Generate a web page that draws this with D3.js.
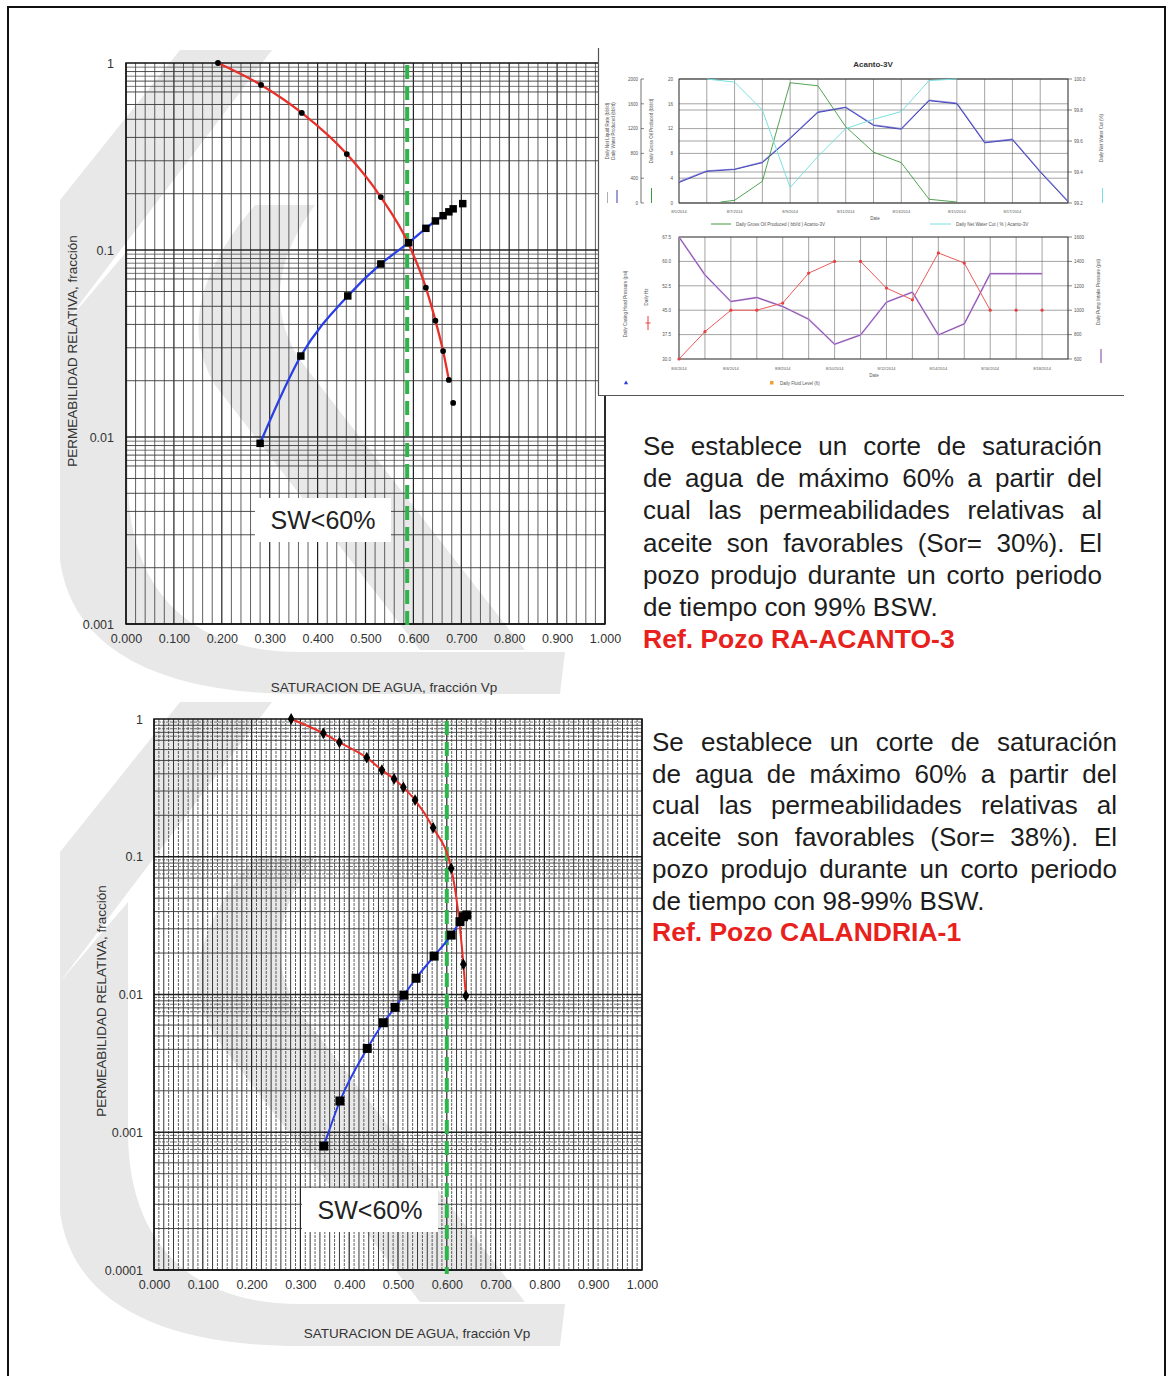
<!DOCTYPE html>
<html><head><meta charset="utf-8">
<script src="https://cdn.jsdelivr.net/npm/d3@7"></script>
<style>body{margin:0;background:#fff}svg{display:block}</style>
</head><body>
<svg id="c" width="1171" height="1376"></svg>
<script>
// ---------------- DATA ----------------
// Top chart (RA-ACANTO-3)
const xTickValues = [0,0.1,0.2,0.3,0.4,0.5,0.6,0.7,0.8,0.9,1.0];
const xTickLabels = ["0.000","0.100","0.200","0.300","0.400","0.500","0.600","0.700","0.800","0.900","1.000"];
const topYTickValues = [1,0.1,0.01,0.001];
const topYTickLabels = ["1","0.1","0.01","0.001"];
const topKroSw = [0.192,0.282,0.367,0.461,0.532,0.589,0.626,0.646,0.662,0.674];
const topKro   = [1.0,0.763,0.541,0.326,0.192,0.109,0.0629,0.0419,0.0288,0.0202];
const topKroTailSw = [0.683];
const topKroTail   = [0.0152];
const topKrwSw = [0.280,0.365,0.463,0.532,0.590,0.626,0.646,0.662,0.674,0.683];
const topKrw   = [0.00925,0.0271,0.0568,0.0842,0.1094,0.1306,0.143,0.1526,0.160,0.166];
const topKrwTailSw = [0.703];
const topKrwTail   = [0.177];
const topCutoff = 0.587;

// Bottom chart (CALANDRIA-1)
const botYTickValues = [1,0.1,0.01,0.001,0.0001];
const botYTickLabels = ["1","0.1","0.01","0.001","0.0001"];
const botKroSw = [0.281,0.347,0.380,0.436,0.467,0.492,0.511,0.535,0.572,0.609,0.634,0.639];
const botKro   = [1.0,0.787,0.677,0.524,0.426,0.367,0.319,0.258,0.1625,0.0824,0.01657,0.0098];
const botKrwSw = [0.348,0.381,0.437,0.470,0.494,0.512,0.537,0.574,0.609,0.627,0.634,0.641];
const botKrw   = [0.000794,0.001686,0.00406,0.00624,0.00807,0.0099,0.01312,0.0190,0.0270,0.0338,0.0367,0.0378];
const botCutoff = 0.600;

const cutLabel = "SW<60%";
const xTitle = "SATURACION  DE AGUA, fracción Vp";
const yTitle = "PERMEABILIDAD  RELATIVA, fracción";

// Texts
const topPara = ["Se establece un corte de saturación","de agua de máximo 60% a partir del","cual las permeabilidades relativas al","aceite son favorables (Sor= 30%). El","pozo produjo durante un corto periodo","de tiempo con 99% BSW."];
const topRef = "Ref. Pozo RA-ACANTO-3";
const botPara = ["Se establece un corte de saturación","de agua de máximo 60% a partir del","cual las permeabilidades relativas al","aceite son favorables (Sor= 38%). El","pozo produjo durante un corto periodo","de tiempo con 98-99% BSW."];
const botRef = "Ref. Pozo CALANDRIA-1";

// Inset (Acanto-3V) upper panel: day index from 8/5/2014
const upDays = [0,1,2,3,4,5,6,7,8,9,10,11,12,13,14];
const upDateLabels = ["8/5/2014","","8/7/2014","","8/9/2014","","8/11/2014","","8/13/2014","","8/15/2014","","8/17/2014","",""];
const waterProduced = [330,510,540,650,1040,1460,1540,1250,1190,1650,1600,970,1020,500,20];
const netLiquid     = [345,520,548,660,1050,1470,1548,1262,1200,1660,1612,982,1030,510,30];
const oilDays = [1.5,2,3,4,5,6,7,8,9,10];
const grossOil = [0.16,0.43,3.5,19.4,18.9,12.3,8.2,6.5,0.6,0.16];
const cutDays = [1,2,3,4,5,6,7,8,9,10];
const waterCut = [100,99.98,99.80,99.30,99.50,99.68,99.74,99.79,99.99,100];
const upLeft1Ticks = [0,400,800,1200,1600,2000];
const upLeft2Ticks = [0,4,8,12,16,20];
const upRightTicks = [99.2,99.4,99.6,99.8,100.0];
// lower panel: day index from 8/4/2014
const loDays = [0,1,2,3,4,5,6,7,8,9,10,11,12,13,14];
const loDateLabels = ["8/4/2014","","8/6/2014","","8/8/2014","","8/10/2014","","8/12/2014","","8/14/2014","","8/16/2014","","8/18/2014"];
const dailyHz = [30.0,38.4,45,45,47.2,56.4,60,60,51.8,48.2,62.6,59.5,45,45,45];
const hzLinked = [1,1,1,1,1,1,0,1,1,1,1,1,0,0];
const pumpIntake = [1600,1290,1071,1104,1030,926,721,797,1066,1148,797,888,1299,1299,1299];
const loLeftTicks = [30,37.5,45,52.5,60,67.5];
const loRightTicks = [600,800,1000,1200,1400,1600];

// ---------------- DRAW ----------------
const F = "Arial, 'Liberation Sans', sans-serif";
const svg = d3.select("#c");
svg.append("rect").attr("width",1171).attr("height",1376).attr("fill","#fff");

// watermark logo shapes (light grey)
function watermark(dy){
  const g = svg.append("g").attr("transform",`translate(0,${dy})`).attr("fill","#e8e8e8");
  g.append("path").attr("d","M180,50 L272,50 L60,330 L60,200 Z");
  g.append("path").attr("d","M255,205 L315,205 C275,260 268,310 300,360 L525,650 L420,650 L215,385 C182,330 200,270 255,205 Z");
  g.append("path").attr("d","M60,330 L60,560 C72,650 160,694 300,694 L560,694 L565,652 L300,652 C190,652 128,590 128,480 L128,250 Z");
}
watermark(0);
watermark(652);

function relpermChart(o){
  const x = d3.scaleLinear([0,1],[o.x0,o.x1]);
  const y = d3.scaleLog([o.ymin,1],[o.y1,o.y0]);
  const g = svg.append("g");
  // vertical grid
  for(let i=0;i<=o.vN;i++){
    const v=i/o.vN, px=x(v);
    let st="#444", w=0.85, da=null;
    if(o.dashedOdd){ if(i%2===1){da="3,1";st="#444";w=0.85;} else {st="#2a2a2a";w=0.95;} }
    if(i%(o.vN/10)===0){st="#222";w=1.2;da=null;}
    g.append("line").attr("x1",px).attr("x2",px).attr("y1",o.y0).attr("y2",o.y1)
      .attr("stroke",st).attr("stroke-width",w).attr("stroke-dasharray",da);
  }
  // horizontal grid
  const ks=[1,2,3,4,5,6,7,8,9];
  const halfK=[7.5,8.5,9.5];
  for(let e=Math.round(Math.log10(o.ymin)); e<0; e++){
    ks.forEach(k=>{ const v=k*Math.pow(10,e); g.append("line").attr("x1",o.x0).attr("x2",o.x1)
      .attr("y1",y(v)).attr("y2",y(v)).attr("stroke",k===1?"#222":"#3a3a3a").attr("stroke-width",k===1?1.3:0.9);});
    halfK.forEach(k=>{ const v=k*Math.pow(10,e); g.append("line").attr("x1",o.x0).attr("x2",o.x1)
      .attr("y1",y(v)).attr("y2",y(v)).attr("stroke","#4a4a4a").attr("stroke-width",0.75)
      .attr("stroke-dasharray",o.dashedOdd?"3,1":null);});
  }
  g.append("rect").attr("x",o.x0).attr("y",o.y0).attr("width",o.x1-o.x0).attr("height",o.y1-o.y0)
    .attr("fill","none").attr("stroke","#111").attr("stroke-width",1.5);
  // axes
  const ax = g.append("g").attr("transform",`translate(0,${o.y1})`)
    .call(d3.axisBottom(x).tickValues(xTickValues).tickFormat((d,i)=>xTickLabels[i]).tickSize(0).tickPadding(10));
  const ay = g.append("g").attr("transform",`translate(${o.x0},0)`)
    .call(d3.axisLeft(y).tickValues(o.yTicks).tickFormat((d,i)=>o.yLabels[i]).tickSize(0).tickPadding(o.yPad));
  [ax,ay].forEach(a=>{a.select(".domain").remove(); a.selectAll("text").attr("font-family",F).attr("font-size",12.5).attr("fill","#333");});
  // cutoff dashed line
  g.append("line").attr("x1",x(o.cut)).attr("x2",x(o.cut)).attr("y1",o.y0+2).attr("y2",o.y1+4)
    .attr("stroke","#2db54b").attr("stroke-width",4).attr("stroke-dasharray","14,7");
  // label box
  const lb = g.append("g").attr("transform",`translate(${o.lblX},${o.lblY})`);
  lb.append("rect").attr("x",-68).attr("y",-22).attr("width",136).attr("height",44).attr("fill","#fff");
  lb.append("text").attr("text-anchor","middle").attr("dy","0.35em").attr("font-family",F).attr("font-size",25)
    .attr("fill","#222").text(cutLabel);
  // curves
  const line = d3.line().x(d=>x(d[0])).y(d=>y(d[1])).curve(d3.curveMonotoneX);
  const kro = o.kroSw.map((s,i)=>[s,o.kro[i]]);
  const krw = o.krwSw.map((s,i)=>[s,o.krw[i]]);
  g.append("path").datum(kro).attr("d",line).attr("fill","none").attr("stroke","#e8302a").attr("stroke-width",o.lw);
  g.append("path").datum(krw).attr("d",line).attr("fill","none").attr("stroke","#2a3ee6").attr("stroke-width",o.lw);
  const sq = d3.symbol(d3.symbolSquare,o.sqSize), dm = d3.symbol(o.dmType,o.dmSize);
  const kroPts = kro.concat(o.kroTailSw.map((s,i)=>[s,o.kroTail[i]]));
  const krwPts = krw.concat(o.krwTailSw.map((s,i)=>[s,o.krwTail[i]]));
  g.selectAll(null).data(krwPts).join("path").attr("d",sq).attr("fill","#000")
    .attr("transform",d=>`translate(${x(d[0])},${y(d[1])})`);
  g.selectAll(null).data(kroPts).join("path").attr("d",dm).attr("fill","#000")
    .attr("transform",d=>`translate(${x(d[0])},${y(d[1])})`);
  // titles
  g.append("text").attr("x",o.xtX).attr("y",o.xtY).attr("text-anchor","middle").attr("font-family",F)
    .attr("font-size",13.5).attr("fill","#333").text(xTitle);
  g.append("text").attr("transform",`translate(${o.ytX},${o.ytY}) rotate(-90)`).attr("text-anchor","middle")
    .attr("font-family",F).attr("font-size",13.5).attr("fill","#333").text(yTitle);
}

relpermChart({x0:126,x1:605,y0:63,y1:624,ymin:0.001,vN:50,dashedOdd:false,
  yTicks:topYTickValues,yLabels:topYTickLabels,yPad:12,cut:topCutoff,lblX:323,lblY:520,
  kroSw:topKroSw,kro:topKro,krwSw:topKrwSw,krw:topKrw,kroTailSw:topKroTailSw,kroTail:topKroTail,
  krwTailSw:topKrwTailSw,krwTail:topKrwTail,lw:2.3,sqSize:56,dmType:d3.symbolCircle,dmSize:26,
  xtX:384,xtY:692,ytX:77,ytY:351});

relpermChart({x0:154,x1:642,y0:719,y1:1270,ymin:0.0001,vN:100,dashedOdd:true,
  yTicks:botYTickValues,yLabels:botYTickLabels,yPad:11,cut:botCutoff,lblX:370,lblY:1210,
  kroSw:botKroSw,kro:botKro,krwSw:botKrwSw,krw:botKrw,kroTailSw:[],kroTail:[],krwTailSw:[],krwTail:[],
  lw:2,sqSize:81,dmType:d3.symbolDiamond,dmSize:40,xtX:417,xtY:1338,ytX:106,ytY:1001});

// ---------------- INSET ----------------
const ins = svg.append("g");
ins.append("rect").attr("x",598).attr("y",48).attr("width",526).attr("height",347).attr("fill","#fff");
ins.append("line").attr("x1",598.5).attr("x2",598.5).attr("y1",48).attr("y2",395).attr("stroke","#555").attr("stroke-width",1.2);
ins.append("line").attr("x1",598).attr("x2",1124).attr("y1",395.5).attr("y2",395.5).attr("stroke","#555").attr("stroke-width",1.2);
const tf = (sel,size,anchor)=>sel.attr("font-family",F).attr("font-size",size).attr("fill","#555").attr("text-anchor",anchor||"start");

// upper panel
const ux = d3.scaleLinear([0,14],[679,1068]);
const uyL1 = d3.scaleLinear([0,2000],[203,79]);
const uyL2 = d3.scaleLinear([0,20],[203,79]);
const uyR = d3.scaleLinear([99.2,100],[203,79]);
tf(ins.append("text").attr("x",873).attr("y",67).attr("font-weight","bold"),8,"middle").attr("fill","#333").text("Acanto-3V");
upDays.forEach(d=>ins.append("line").attr("x1",ux(d)).attr("x2",ux(d)).attr("y1",79).attr("y2",203).attr("stroke","#666").attr("stroke-width",0.6));
upLeft2Ticks.forEach(t=>ins.append("line").attr("x1",679).attr("x2",1068).attr("y1",uyL2(t)).attr("y2",uyL2(t)).attr("stroke","#666").attr("stroke-width",0.6));
upRightTicks.forEach(t=>ins.append("line").attr("x1",679).attr("x2",1068).attr("y1",uyR(t)).attr("y2",uyR(t)).attr("stroke","#666").attr("stroke-width",0.6));
ins.append("rect").attr("x",679).attr("y",79).attr("width",389).attr("height",124).attr("fill","none").attr("stroke","#333").attr("stroke-width",0.8);
ins.append("line").attr("x1",641).attr("x2",641).attr("y1",79).attr("y2",203).attr("stroke","#333").attr("stroke-width",0.7);
upLeft1Ticks.forEach(t=>{
  ins.append("line").attr("x1",641).attr("x2",644).attr("y1",uyL1(t)).attr("y2",uyL1(t)).attr("stroke","#333").attr("stroke-width",0.6);
  tf(ins.append("text").attr("x",638).attr("y",uyL1(t)+1.8),4.5,"end").text(t);
});
upLeft2Ticks.forEach(t=>tf(ins.append("text").attr("x",673).attr("y",uyL2(t)+1.8),4.5,"end").text(t));
upRightTicks.forEach(t=>{
  ins.append("line").attr("x1",1068).attr("x2",1072).attr("y1",uyR(t)).attr("y2",uyR(t)).attr("stroke","#333").attr("stroke-width",0.6);
  tf(ins.append("text").attr("x",1074).attr("y",uyR(t)+1.8),4.5,"start").text(t.toFixed(1));
});
upDays.forEach((d,i)=>{ if(upDateLabels[i]) tf(ins.append("text").attr("x",ux(d)).attr("y",213),4,"middle").text(upDateLabels[i]); });
tf(ins.append("text").attr("x",875).attr("y",220),4.5,"middle").text("Date");
const lin = (xs,ys)=>d3.line().x(d=>xs(d[0])).y(d=>ys(d[1]));
ins.append("path").datum(upDays.map((d,i)=>[d,netLiquid[i]])).attr("d",lin(ux,uyL1)).attr("fill","none").attr("stroke","#8a8ae0").attr("stroke-width",1.2);
ins.append("path").datum(upDays.map((d,i)=>[d,waterProduced[i]])).attr("d",lin(ux,uyL1)).attr("fill","none").attr("stroke","#3a3ab0").attr("stroke-width",0.9);
ins.append("path").datum(oilDays.map((d,i)=>[d,grossOil[i]])).attr("d",lin(ux,uyL2)).attr("fill","none").attr("stroke","#3f9a3f").attr("stroke-width",0.9);
ins.append("path").datum(cutDays.map((d,i)=>[d,waterCut[i]])).attr("d",lin(ux,uyR)).attr("fill","none").attr("stroke","#78e0e0").attr("stroke-width",1);
// rotated axis titles
const rot=(x,y,txt,size)=>tf(ins.append("text").attr("transform",`translate(${x},${y}) rotate(-90)`),size,"middle").text(txt);
rot(609,131,"Daily Net Liquid Rate (bbl/d)",4.5);
rot(615,131,"Daily Water Produced (bbl/d)",4.5);
rot(653,131,"Daily Gross Oil Produced (bbl/d)",4.5);
rot(1103,138,"Daily Net Water Cut (%)",4.5);
ins.append("line").attr("x1",607.5).attr("x2",607.5).attr("y1",192).attr("y2",203).attr("stroke","#999").attr("stroke-width",0.8);
ins.append("line").attr("x1",617).attr("x2",617).attr("y1",190).attr("y2",203).attr("stroke","#3a3ab0").attr("stroke-width",1);
ins.append("line").attr("x1",651.5).attr("x2",651.5).attr("y1",188).attr("y2",203).attr("stroke","#3f9a3f").attr("stroke-width",1);
ins.append("line").attr("x1",1102.5).attr("x2",1102.5).attr("y1",188).attr("y2",203).attr("stroke","#78e0e0").attr("stroke-width",1);
ins.append("line").attr("x1",711).attr("x2",731).attr("y1",224).attr("y2",224).attr("stroke","#3f9a3f").attr("stroke-width",1);
tf(ins.append("text").attr("x",736).attr("y",225.5),4.5,"start").text("Daily Gross Oil Produced ( bbl/d ) Acanto-3V");
ins.append("line").attr("x1",930).attr("x2",951).attr("y1",224).attr("y2",224).attr("stroke","#78e0e0").attr("stroke-width",1);
tf(ins.append("text").attr("x",956).attr("y",225.5),4.5,"start").text("Daily Net Water Cut ( % ) Acanto-3V");

// lower panel
const lx = d3.scaleLinear([0,15],[679,1068]);
const lyL = d3.scaleLinear([30,67.5],[359,237]);
const lyR = d3.scaleLinear([600,1600],[359,237]);
[0,1,2,3,4,5,6,7,8,9,10,11,12,13,14,15].forEach(d=>ins.append("line").attr("x1",lx(d)).attr("x2",lx(d)).attr("y1",237).attr("y2",359).attr("stroke","#666").attr("stroke-width",0.6));
loLeftTicks.forEach(t=>{
  ins.append("line").attr("x1",679).attr("x2",1068).attr("y1",lyL(t)).attr("y2",lyL(t)).attr("stroke","#666").attr("stroke-width",0.6);
  tf(ins.append("text").attr("x",671).attr("y",lyL(t)+1.8),4.5,"end").text(t.toFixed(1));
});
loRightTicks.forEach(t=>{
  ins.append("line").attr("x1",1068).attr("x2",1072).attr("y1",lyR(t)).attr("y2",lyR(t)).attr("stroke","#333").attr("stroke-width",0.6);
  tf(ins.append("text").attr("x",1074).attr("y",lyR(t)+1.8),4.5,"start").text(t);
});
ins.append("rect").attr("x",679).attr("y",237).attr("width",389).attr("height",122).attr("fill","none").attr("stroke","#333").attr("stroke-width",0.8);
loDays.forEach((d,i)=>{ if(loDateLabels[i]) tf(ins.append("text").attr("x",lx(d)).attr("y",370),4,"middle").text(loDateLabels[i]); });
tf(ins.append("text").attr("x",874).attr("y",377),4.5,"middle").text("Date");
ins.append("path").datum(loDays.map((d,i)=>[d,pumpIntake[i]])).attr("d",lin(lx,lyR)).attr("fill","none").attr("stroke","#c9a6e6").attr("stroke-width",1.8);
ins.append("path").datum(loDays.map((d,i)=>[d,pumpIntake[i]])).attr("d",lin(lx,lyR)).attr("fill","none").attr("stroke","#7a3c9c").attr("stroke-width",0.8);
hzLinked.forEach((k,i)=>{ if(k) ins.append("line").attr("x1",lx(loDays[i])).attr("x2",lx(loDays[i+1]))
  .attr("y1",lyL(dailyHz[i])).attr("y2",lyL(dailyHz[i+1])).attr("stroke","#ee5a5a").attr("stroke-width",1); });
loDays.forEach((d,i)=>ins.append("circle").attr("cx",lx(d)).attr("cy",lyL(dailyHz[i])).attr("r",1.6).attr("fill","#e84040"));
rot(627,304,"Daily Casing Head Pressure (psi)",4.5);
rot(648,297,"Daily Hz",4.5);
rot(1100,292,"Daily Pump Intake Pressure (psi)",4.5);
ins.append("line").attr("x1",648).attr("x2",648).attr("y1",316).attr("y2",330).attr("stroke","#e84040").attr("stroke-width",1);
ins.append("line").attr("x1",645.5).attr("x2",650.5).attr("y1",323).attr("y2",323).attr("stroke","#e84040").attr("stroke-width",1);
ins.append("line").attr("x1",1101).attr("x2",1101).attr("y1",349).attr("y2",363).attr("stroke","#7a3c9c").attr("stroke-width",1);
ins.append("path").attr("d",d3.symbol(d3.symbolTriangle,8)).attr("transform","translate(626,383)").attr("fill","#2a3ee6");
ins.append("rect").attr("x",770).attr("y",381).attr("width",3.5).attr("height",3.5).attr("fill","#f0a030");
tf(ins.append("text").attr("x",780).attr("y",385),4.5,"start").text("Daily Fluid Level (ft)");

// ---------------- PARAGRAPHS ----------------
function paragraph(lines,refTxt,x0,x1,base,lh,fs){
  const g = svg.append("g").attr("font-family",F).attr("font-size",fs).attr("fill","#1c1c1c");
  lines.forEach((ln,li)=>{
    const y = base + li*lh;
    const words = ln.split(" ");
    if(li < lines.length-1){
      const els = words.map(w=>g.append("text").attr("y",y).text(w));
      const ws = els.map(e=>e.node().getComputedTextLength());
      const gap = (x1-x0-d3.sum(ws))/(words.length-1);
      let cx=x0; els.forEach((e,i)=>{e.attr("x",cx); cx+=ws[i]+gap;});
    } else {
      g.append("text").attr("x",x0).attr("y",y).text(ln);
    }
  });
  g.append("text").attr("x",x0).attr("y",base+lines.length*lh).attr("font-weight","bold").attr("font-size",fs+0.5)
    .attr("fill","#e8211d").text(refTxt);
}
paragraph(topPara,topRef,643,1102,455,32.2,26);
paragraph(botPara,botRef,652,1117,751,31.7,26);

// outer frame
svg.append("path").attr("d","M8,1376 L8,7 L1165,7 L1165,1376").attr("fill","none").attr("stroke","#111").attr("stroke-width",2);
</script>
</body></html>
